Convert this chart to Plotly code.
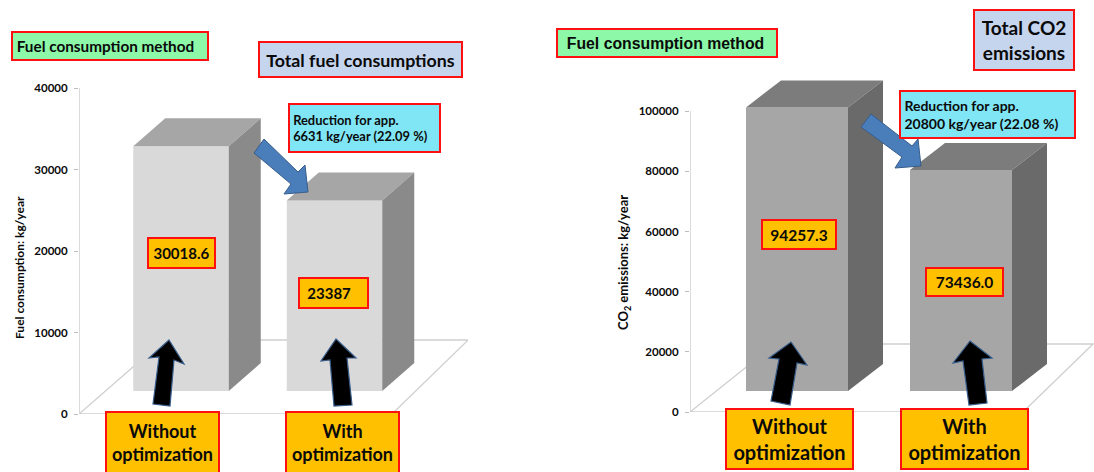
import plotly.graph_objects as go

# Values
categories = ["Without<br>optimization", "With<br>optimization"]
fuel_values = [30018.6, 23387]
fuel_labels = ["30018.6", "23387"]
co2_values = [94257.3, 73436.0]
co2_labels = ["94257.3", "73436.0"]
fuel_ticks = [0, 10000, 20000, 30000, 40000]
co2_ticks = [0, 20000, 40000, 60000, 80000, 100000]

W, H = 1094, 472
TEXT = "#0A0A0A"
FONT = "Lato"
RED = "#FF1010"


def px(x):
    return x / W


def py(y):
    return 1 - y / H


# Panel geometry in pixels
panels = [
    dict(xa="x", ya="y", values=fuel_values, ticks=fuel_ticks,
         left=79, right=468, zero=414, top=88, top_value=40000,
         centre0=181, step=153.5, bar=95.5, lift=23, depth_x=32, depth_y=28,
         floor_front=392, floor_back_l=164, floor_back=340,
         front="#D9D9D9", roof="#A6A6A6", side="#8A8A8A"),
    dict(xa="x2", ya="y2", values=co2_values, ticks=co2_ticks,
         left=690, right=1094, zero=412, top=66, top_value=115000,
         centre0=797, step=164, bar=102, lift=21, depth_x=35, depth_y=27,
         floor_front=1023, floor_back_l=775, floor_back=344,
         front="#A6A6A6", roof="#7C7C7C", side="#6A6A6A"),
]

fig = go.Figure()
shapes = []

for p in panels:
    sx = 1 / p["step"]                                  # data units per pixel, x
    sy = p["top_value"] / (p["zero"] - p["top"])        # data units per pixel, y
    p["x_lo"] = (p["left"] - p["centre0"]) * sx
    p["x_hi"] = (p["right"] - p["centre0"]) * sx
    half = p["bar"] * sx / 2
    base = p["lift"] * sy
    dx = p["depth_x"] * sx
    dy = p["depth_y"] * sy
    idx = list(range(len(p["values"])))

    # Floor of the 3D chart and the value axis line, both behind the bars
    fx = lambda v: (v - p["centre0"]) * sx
    back = (p["zero"] - p["floor_back"]) * sy
    back_right = fx(p["floor_front"]) + (p["zero"] - p["floor_back"]) * 1.03 * sx
    shapes.append(dict(
        type="path", xref=p["xa"], yref=p["ya"], layer="below",
        path=(f"M {p['x_lo']} 0 L {fx(p['floor_front'])} 0 L {back_right} {back} "
              f"L {fx(p['floor_back_l'])} {back} Z"),
        fillcolor="white", line=dict(color="#CFCFCF", width=1.3)))
    shapes.append(dict(
        type="line", xref=p["xa"], yref=p["ya"], layer="below",
        x0=p["x_lo"], x1=p["x_lo"], y0=0, y1=p["ticks"][-1],
        line=dict(color="#CFCFCF", width=1.5)))

    # Front faces
    fig.add_trace(go.Bar(
        x=idx, y=p["values"], base=base, width=p["bar"] * sx,
        marker=dict(color=p["front"], line=dict(width=0)),
        xaxis=p["xa"], yaxis=p["ya"], showlegend=False, hoverinfo="skip"))

    # Roof and side faces follow each bar's value
    for i, v in zip(idx, p["values"]):
        top = v + base
        fig.add_trace(go.Scatter(
            x=[i - half, i + half, i + half + dx, i - half + dx, i - half],
            y=[top, top, top + dy, top + dy, top],
            mode="lines", fill="toself", fillcolor=p["roof"], line=dict(width=0),
            xaxis=p["xa"], yaxis=p["ya"], showlegend=False, hoverinfo="skip"))
        fig.add_trace(go.Scatter(
            x=[i + half, i + half + dx, i + half + dx, i + half, i + half],
            y=[base, base + dy, top + dy, top, base],
            mode="lines", fill="toself", fillcolor=p["side"], line=dict(width=0),
            xaxis=p["xa"], yaxis=p["ya"], showlegend=False, hoverinfo="skip"))


def axis_x(p):
    return dict(domain=[px(p["left"]), px(p["right"])], range=[p["x_lo"], p["x_hi"]],
                visible=False, fixedrange=True)


def axis_y(p, anchor):
    return dict(domain=[py(p["zero"]), py(p["top"])], range=[0, p["top_value"]],
                anchor=anchor, tickmode="array", tickvals=p["ticks"],
                ticktext=[str(t) for t in p["ticks"]],
                ticks="outside", ticklen=4, tickcolor="#BDBDBD", showgrid=False,
                ticklabelstandoff=4,
                zeroline=False, showline=False, fixedrange=True,
                tickfont=dict(family=FONT, size=11.5, color=TEXT, weight=700))


# Callout arrows
def polygon(points, fill, line_color, line_width=1):
    path = "M " + " L ".join(f"{px(x)} {py(y)}" for x, y in points) + " Z"
    return dict(type="path", xref="paper", yref="paper", path=path, layer="above",
                fillcolor=fill, line=dict(color=line_color, width=line_width))


BLUE = "#4A7EBB"
EDGE = "#385D8A"
shapes += [
    polygon([(264, 139), (298, 172), (305, 165), (308, 192), (284, 194), (291, 184), (254, 153)], BLUE, EDGE),
    polygon([(871, 114), (912, 146), (918, 139), (921, 166), (895, 168), (902, 157), (861, 127)], BLUE, EDGE),
    polygon([(169, 340), (184, 364), (174, 360), (170, 406), (153, 404), (159, 357), (149, 358)], "black", EDGE, 1.2),
    polygon([(336, 339), (356, 358), (347, 358), (352, 405), (334, 406), (330, 360), (321, 361)], "black", EDGE, 1.2),
    polygon([(791, 342), (807, 365), (797, 363), (790, 405), (771, 401), (779, 359), (769, 358)], "black", EDGE, 1.2),
    polygon([(970, 341), (992, 358), (982, 359), (987, 403), (969, 405), (963, 361), (953, 363)], "black", EDGE, 1.2),
]


# Text boxes
def box(x0, y0, x1, y1, text, fill, size, align="center", family=FONT, indent=5):
    if align == "left":
        pad = "&nbsp;" * indent
        text = "<br>".join(pad + part for part in text.split("<br>"))
    return dict(
        xref="paper", yref="paper", x=px(x0), y=py(y0), xanchor="left", yanchor="top",
        width=x1 - x0 - 2, height=y1 - y0 - 2, align=align, valign="middle",
        text=f"<b>{text}</b>", showarrow=False, bgcolor=fill, bordercolor=RED,
        borderwidth=2, borderpad=0, font=dict(family=family, size=size, color=TEXT))


GREEN, LILAC, CYAN, AMBER = "#8CF8A8", "#C6D5EE", "#80E6F5", "#FFC000"
annotations = [
    box(11, 31, 207, 59, "Fuel consumption method", GREEN, 15.3, "left", indent=1),
    box(258, 41, 461, 76, "Total fuel consumptions", LILAC, 17.8),
    box(288, 103, 439, 151, "Reduction for app.<br>6631 kg/year (22.09 %)", CYAN, 12.9, "left", indent=1),
    box(147, 237, 214, 267, fuel_labels[0], AMBER, 15),
    box(298, 277, 367, 307, fuel_labels[1], AMBER, 15, "left", indent=2),
    box(105, 411, 218, 472, categories[0], AMBER, 18),
    box(285, 411, 398, 472, categories[1], AMBER, 18),
    box(556, 28, 776, 56, "Fuel consumption method", GREEN, 15.8, "left", "Liberation Sans", indent=2),
    box(973, 9, 1073, 69, "Total CO2<br>emissions", LILAC, 19),
    box(899, 90, 1074, 137, "Reduction for app.<br>20800 kg/year (22.08 %)", CYAN, 14, "left", indent=1),
    box(761, 219, 835, 248, co2_labels[0], AMBER, 15.5),
    box(925, 267, 1002, 295, co2_labels[1], AMBER, 15.5),
    box(725, 408, 852, 468, categories[0], AMBER, 20),
    box(900, 408, 1027, 468, categories[1], AMBER, 20),
    dict(xref="paper", yref="paper", x=px(19), y=py(268), text="<b>Fuel consumption: kg/year</b>",
         textangle=-90, showarrow=False, xanchor="center", yanchor="middle",
         font=dict(family=FONT, size=12, color=TEXT)),
    dict(xref="paper", yref="paper", x=px(624), y=py(262), text="<b>CO<sub>2</sub> emissions: kg/year</b>",
         textangle=-90, showarrow=False, xanchor="center", yanchor="middle",
         font=dict(family=FONT, size=13, color=TEXT)),
]

fig.update_layout(
    width=W, height=H, margin=dict(l=0, r=0, t=0, b=0, autoexpand=False),
    paper_bgcolor="white", plot_bgcolor="rgba(0,0,0,0)",
    showlegend=False, barmode="overlay",
    xaxis=axis_x(panels[0]), yaxis=axis_y(panels[0], "x"),
    xaxis2=axis_x(panels[1]), yaxis2=axis_y(panels[1], "x2"),
    shapes=shapes, annotations=annotations,
)

fig.write_html("out.html")
